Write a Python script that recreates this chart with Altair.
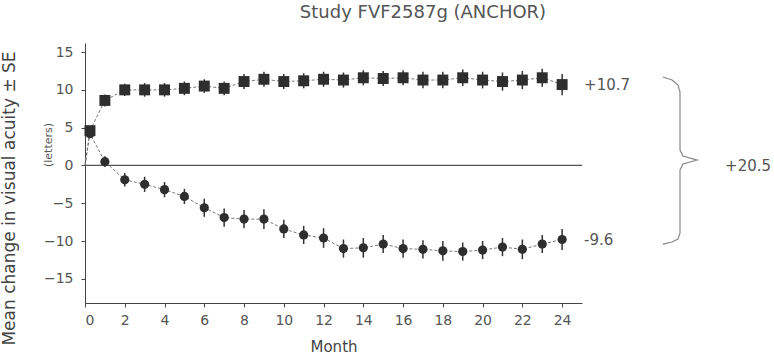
import altair as alt
import pandas as pd

# ---- data ----
months = [0.25] + list(range(1, 25))
ranibizumab = [4.6, 8.6, 10.0, 10.0, 10.0, 10.2, 10.5, 10.2, 11.1, 11.4, 11.1, 11.2,
               11.4, 11.3, 11.6, 11.5, 11.6, 11.3, 11.3, 11.6, 11.3, 11.1, 11.3, 11.6, 10.7]
ranibizumab_se = [0.5, 0.8, 0.8, 0.9, 0.9, 0.9, 0.9, 0.9, 1.0, 1.0, 1.0, 1.0,
                  1.0, 1.0, 1.0, 1.0, 1.0, 1.1, 1.1, 1.1, 1.1, 1.2, 1.2, 1.2, 1.4]
verteporfin = [4.2, 0.5, -1.9, -2.5, -3.2, -4.1, -5.6, -6.9, -7.1, -7.1, -8.4, -9.2,
               -9.6, -11.0, -10.9, -10.4, -11.0, -11.1, -11.3, -11.4, -11.2, -10.8, -11.1, -10.4, -9.8]
verteporfin_se = [0.5, 0.7, 0.9, 1.0, 1.0, 1.0, 1.2, 1.2, 1.2, 1.3, 1.2, 1.2,
                  1.3, 1.2, 1.3, 1.2, 1.2, 1.2, 1.3, 1.2, 1.2, 1.2, 1.3, 1.2, 1.4]
end_labels = ["+10.7", "-9.6"]
diff_label = "+20.5"
title_text = "Study FVF2587g (ANCHOR)"
y_title = "Mean change in visual acuity \u00b1 SE"
y_subtitle = "(letters)"
x_title = "Month"
y_ticks = [-15, -10, -5, 0, 5, 10, 15]
x_ticks = list(range(0, 25))

# brace path (month, letters) drawn to the right of the curves
brace_m = [29.07, 29.53, 29.83, 29.93, 29.93, 30.08, 30.79, 30.08, 29.93, 29.93, 29.83, 29.53, 29.07]
brace_v = [11.7, 11.3, 10.64, 9.7, 2.04, 1.24, 0.71, 0.19, -0.61, -8.94, -9.74, -10.13, -10.4]

# ---- tables ----
pts = pd.DataFrame({
    "month": months * 2,
    "value": ranibizumab + verteporfin,
    "se": ranibizumab_se + verteporfin_se,
    "group": ["ranibizumab"] * len(months) + ["verteporfin"] * len(months),
})
pts["lo"] = pts["value"] - pts["se"]
pts["hi"] = pts["value"] + pts["se"]

lines = pd.DataFrame({
    "month": ([0] + months) * 2,
    "value": [0] + ranibizumab + [0] + verteporfin,
    "group": ["ranibizumab"] * (len(months) + 1) + ["verteporfin"] * (len(months) + 1),
    "idx": list(range(len(months) + 1)) * 2,
})

ends = pd.DataFrame({
    "month": [months[-1], months[-1]],
    "value": [ranibizumab[-1], verteporfin[-1]],
    "label": end_labels,
    "dy": [-11, 0],
})

brace = pd.DataFrame({"month": brace_m, "value": brace_v, "idx": list(range(len(brace_m)))})
diff = pd.DataFrame({"month": [brace_m[6]], "value": [brace_v[6]], "label": [diff_label]})

FONT = "DejaVu Sans"
xs = alt.Scale(domain=[0, 25], nice=False, zero=False)
ys = alt.Scale(domain=[-18.2, 16.2], nice=False)

x_enc = alt.X("month:Q", scale=xs, axis=alt.Axis(
    values=x_ticks, labelExpr="datum.value % 2 == 0 ? datum.label : ''", grid=False,
    title=x_title, titleFontSize=15, titleFontWeight="normal", titleColor="#444",
    titleY=43, titleBaseline="middle", labelPadding=6, labelFontSize=14, labelColor="#555",
    labelFont=FONT, titleFont=FONT, tickSize=4, tickColor="#444", domainColor="#444"))
y_enc = alt.Y("value:Q", scale=ys, axis=alt.Axis(
    values=y_ticks, title=y_title, titleFontSize=17, titleFontWeight="normal", grid=False,
    titleColor="#444", titleAngle=270, titleX=-76, titleY=155, titleAlign="center",
    titleBaseline="middle", labelPadding=8, labelFontSize=14, labelColor="#555",
    labelFont=FONT, titleFont=FONT, tickSize=4, tickColor="#444", domainColor="#444"))

zero = alt.Chart(pd.DataFrame({"value": [0]})).mark_rule(color="#555", strokeWidth=1.3).encode(
    y=alt.Y("value:Q", scale=ys))

conn = alt.Chart(lines).mark_line(color="#777", strokeWidth=1, strokeDash=[3, 2]).encode(
    x=x_enc, y=y_enc, detail="group:N", order="idx:Q")

err = alt.Chart(pts).mark_rule(color="#333", strokeWidth=1.5).encode(
    x=alt.X("month:Q", scale=xs), y=alt.Y("lo:Q", scale=ys), y2="hi:Q")

marks = alt.Chart(pts).mark_point(filled=True, opacity=1, color="#2e2e2e").encode(
    x=alt.X("month:Q", scale=xs), y=alt.Y("value:Q", scale=ys),
    shape=alt.Shape("group:N", scale=alt.Scale(domain=["ranibizumab", "verteporfin"],
                                               range=["square", "circle"]), legend=None),
    size=alt.Size("group:N", scale=alt.Scale(domain=["ranibizumab", "verteporfin"],
                                             range=[120, 85]), legend=None),
)

end_txt = alt.Chart(ends).mark_text(align="left", baseline="middle", dx=22, font=FONT,
                                    fontSize=15, color="#555").encode(
    x=alt.X("month:Q", scale=xs), y=alt.Y("value:Q", scale=ys), text="label:N",
    yOffset=alt.YOffset("dy:Q", scale=None))

brace_line = alt.Chart(brace).mark_line(color="#888", strokeWidth=1.2).encode(
    x=alt.X("month:Q", scale=xs), y=alt.Y("value:Q", scale=ys), order="idx:Q")

diff_txt = alt.Chart(diff).mark_text(align="left", baseline="middle", dx=28, dy=6, font=FONT,
                                     fontSize=15, color="#555").encode(
    x=alt.X("month:Q", scale=xs), y=alt.Y("value:Q", scale=ys), text="label:N")

title_mark = alt.Chart(pd.DataFrame({"t": [title_text]})).mark_text(
    font=FONT, fontSize=18, color="#555", align="center", baseline="middle").encode(
    x=alt.value(338), y=alt.value(-30), text="t:N")

sub_mark = alt.Chart(pd.DataFrame({"t": [y_subtitle]})).mark_text(
    font=FONT, fontSize=11, color="#555", align="center", baseline="middle", angle=270).encode(
    x=alt.value(-36), y=alt.value(102), text="t:N")

chart = alt.layer(conn, zero, err, marks, end_txt, brace_line, diff_txt, title_mark, sub_mark).properties(
    width=497, height=260,
    background="white",
    autosize=alt.AutoSizeParams(type="none"),
    padding={"left": 85, "top": 43, "right": 192, "bottom": 57},
).configure_view(stroke=None)

chart.save("out.html", embed_options={"renderer": "svg", "actions": False})
